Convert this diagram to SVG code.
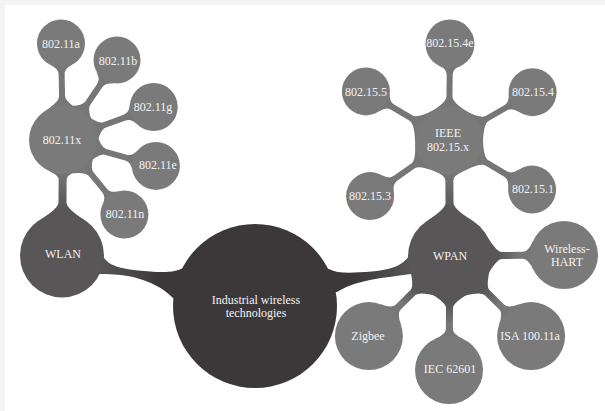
<svg xmlns="http://www.w3.org/2000/svg" width="605" height="411" viewBox="0 0 605 411">
  <style>
    .c-core { fill: #3c3839; }
    .c-mid { fill: #585657; }
    .c-leaf { fill: #7a7a7a; }
    .st-leaf { fill: #767676; }
    text { font-family: "Liberation Serif", "DejaVu Serif", serif; font-size: 12px; fill: #f2f2f2; text-anchor: middle; }
  </style>
  <defs>
    <linearGradient id="gUp" x1="0" y1="0" x2="1" y2="0">
      <stop offset="0.25" stop-color="#585657"/>
      <stop offset="0.9" stop-color="#737373"/>
    </linearGradient>
    <linearGradient id="gOut" x1="0" y1="0" x2="1" y2="0">
      <stop offset="0.25" stop-color="#585657"/>
      <stop offset="0.67" stop-color="#767676"/>
    </linearGradient>
    <linearGradient id="gWlan" gradientUnits="userSpaceOnUse" x1="100" y1="0" x2="185" y2="0">
      <stop offset="0" stop-color="#585657"/>
      <stop offset="0.7" stop-color="#3c3839"/>
    </linearGradient>
    <linearGradient id="gWpan" gradientUnits="userSpaceOnUse" x1="330" y1="0" x2="412" y2="0">
      <stop offset="0.3" stop-color="#3c3839"/>
      <stop offset="1" stop-color="#585657"/>
    </linearGradient>
    <!-- stems in a local frame: parent centre at origin, child centre on +x -->
    <path id="stemLeaf" class="st-leaf" d="M28.83,-18.02 Q38.22,-3 44,-3 L65.5,-3 Q71.42,-3 74.75,-10.14 L74.75,10.14 Q71.42,3 65.5,3 L44,3 Q38.22,3 28.83,18.02 Z"/>
    <path id="stemHub" fill="url(#gUp)" d="M35.62,-22.26 Q47.03,-4 53,-4 L75.5,-4 Q80.45,-4 83.98,-12.74 L83.98,12.74 Q80.45,4 75.5,4 L53,4 Q47.03,4 35.62,22.26 Z"/>
    <path id="stemOut" fill="url(#gOut)" d="M36.37,-21 Q46.48,-3.5 52,-3.5 L73,-3.5 Q78.11,-3.5 83.19,-14.37 L83.19,14.37 Q78.11,3.5 73,3.5 L52,3.5 Q46.48,3.5 36.37,21 Z"/>
  </defs>

  <rect x="0" y="0" width="605" height="411" fill="#f4f4f4"/>
  <rect x="5" y="5" width="600" height="406" fill="#ffffff"/>

  <g id="connectors">
    <!-- necks into the central hub -->
    <path fill="url(#gWlan)" d="M100,262 L103,256 C107,264 116,268 138,270.5 C158,272.5 176,274 186,266 L200,266 L178,300 L173,298 C163,288 152,282 133,277 C118,274 108,274 99,274 Z"/>
    <path fill="url(#gWpan)" d="M318,268 L329,269 C338,274 352,273 372,271.5 C390,270 402,266 409,256 L420,256 L415,274 L411,274 C398,276 385,277 370,280 C355,283 345,287 337,292 L320,292 Z"/>
    <!-- hubs to their family nodes -->
    <use href="#stemHub" transform="translate(62,255.5) rotate(-89.5)"/>
    <use href="#stemHub" transform="translate(450,256) rotate(-90.5)"/>
    <!-- 802.11x family -->
    <use href="#stemLeaf" transform="translate(63,140) rotate(-91.2)"/>
    <use href="#stemLeaf" transform="translate(63,140) rotate(-56)"/>
    <use href="#stemLeaf" transform="translate(63,140) rotate(-20)"/>
    <use href="#stemLeaf" transform="translate(63,140) rotate(15.6)"/>
    <use href="#stemLeaf" transform="translate(63,140) rotate(50.5)"/>
    <!-- 802.15.x family -->
    <use href="#stemLeaf" transform="translate(449,140.5) rotate(-89.4)"/>
    <use href="#stemLeaf" transform="translate(449,140.5) rotate(-149.44)"/>
    <use href="#stemLeaf" transform="translate(449,140.5) rotate(-30)"/>
    <use href="#stemLeaf" transform="translate(449,140.5) rotate(144.8)"/>
    <use href="#stemLeaf" transform="translate(449,140.5) rotate(30.56)"/>
    <!-- WPAN protocols -->
    <use href="#stemOut" transform="translate(450,256) rotate(-0.5)"/>
    <use href="#stemOut" transform="translate(450,256) rotate(135.35)"/>
    <use href="#stemOut" transform="translate(450,256) rotate(90.5)"/>
    <use href="#stemOut" transform="translate(450,256) rotate(44.65)"/>
  </g>

  <g id="core">
    <circle class="c-core" cx="255" cy="306" r="82"/>
    <text x="256" y="304">Industrial wireless</text>
    <text x="256" y="317">technologies</text>
  </g>

  <g id="wlan">
    <circle class="c-mid" cx="62" cy="255.5" r="42"/>
    <text x="63" y="258">WLAN</text>
  </g>
  <g id="ieee80211x">
    <circle class="c-leaf" cx="63" cy="140" r="34"/>
    <text x="62" y="144">802.11x</text>
  </g>
  <g id="ieee80211a">
    <circle class="c-leaf" cx="61" cy="43.5" r="24"/>
    <text x="61" y="48">802.11a</text>
  </g>
  <g id="ieee80211b">
    <circle class="c-leaf" cx="117" cy="60" r="23.5"/>
    <text x="118" y="65">802.11b</text>
  </g>
  <g id="ieee80211g">
    <circle class="c-leaf" cx="153.7" cy="107" r="24"/>
    <text x="153" y="111">802.11g</text>
  </g>
  <g id="ieee80211e">
    <circle class="c-leaf" cx="155.9" cy="165.9" r="24"/>
    <text x="158" y="169">802.11e</text>
  </g>
  <g id="ieee80211n">
    <circle class="c-leaf" cx="124.4" cy="214.5" r="24"/>
    <text x="125" y="218">802.11n</text>
  </g>

  <g id="wpan">
    <circle class="c-mid" cx="450" cy="256" r="42"/>
    <text x="450" y="260">WPAN</text>
  </g>
  <g id="ieee80215x">
    <circle class="c-leaf" cx="449" cy="140.5" r="34"/>
    <text x="448" y="137">IEEE</text>
    <text x="448" y="151">802.15.x</text>
  </g>
  <g id="ieee802154e">
    <circle class="c-leaf" cx="450" cy="44" r="24.5"/>
    <text x="450" y="47">802.15.4e</text>
  </g>
  <g id="ieee802155">
    <circle class="c-leaf" cx="365.9" cy="91.4" r="24"/>
    <text x="366" y="96">802.15.5</text>
  </g>
  <g id="ieee802154">
    <circle class="c-leaf" cx="532.6" cy="92.2" r="24"/>
    <text x="533" y="96">802.15.4</text>
  </g>
  <g id="ieee802153">
    <circle class="c-leaf" cx="370.1" cy="196.1" r="24"/>
    <text x="370" y="200">802.15.3</text>
  </g>
  <g id="ieee802151">
    <circle class="c-leaf" cx="532.1" cy="189.6" r="24"/>
    <text x="533" y="193">802.15.1</text>
  </g>
  <g id="wirelesshart">
    <circle class="c-leaf" cx="564" cy="255" r="34"/>
    <text x="567" y="253">Wireless-</text>
    <text x="567" y="266">HART</text>
  </g>
  <g id="zigbee">
    <circle class="c-leaf" cx="368.9" cy="336.1" r="34"/>
    <text x="368" y="340">Zigbee</text>
  </g>
  <g id="iec62601">
    <circle class="c-leaf" cx="449" cy="370" r="34"/>
    <text x="450" y="373">IEC 62601</text>
  </g>
  <g id="isa10011a">
    <circle class="c-leaf" cx="531.1" cy="336.1" r="34"/>
    <text x="530" y="340">ISA 100.11a</text>
  </g>
</svg>
